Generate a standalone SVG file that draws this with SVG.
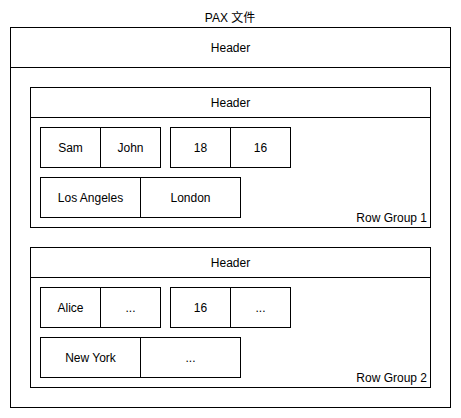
<svg xmlns="http://www.w3.org/2000/svg" width="461" height="418" viewBox="0 0 461 418">
<style>
.b{fill:#fff;stroke:#000;stroke-width:1}
.l{stroke:#000;stroke-width:1;fill:none}
text{font-family:"Liberation Sans",Arial,"Noto Sans CJK SC",sans-serif;font-size:12px;fill:#000;text-anchor:middle}
.r{text-anchor:end}
</style>
<rect width="461" height="418" fill="#fff"/>
<g id="file">
<text x="230" y="22">PAX 文件</text>
<rect class="b" x="10.5" y="27.5" width="440" height="380"/>
<line class="l" x1="10.5" y1="67.5" x2="450.5" y2="67.5"/>
<text x="230.5" y="51.5">Header</text>
</g>
<g id="rowgroup1">
<rect class="b" x="30.5" y="87.5" width="400" height="140"/>
<line class="l" x1="30.5" y1="117.5" x2="430.5" y2="117.5"/>
<text x="230.5" y="106.5">Header</text>
<text class="r" x="427" y="222">Row Group 1</text>
</g>
<g id="rg1-names">
<rect class="b" x="40.5" y="127.5" width="60" height="40"/>
<rect class="b" x="100.5" y="127.5" width="60" height="40"/>
<text x="70.5" y="151.5">Sam</text>
<text x="130.5" y="151.5">John</text>
</g>
<g id="rg1-ages">
<rect class="b" x="170.5" y="127.5" width="60" height="40"/>
<rect class="b" x="230.5" y="127.5" width="60" height="40"/>
<text x="200.5" y="151.5">18</text>
<text x="260.5" y="151.5">16</text>
</g>
<g id="rg1-cities">
<rect class="b" x="40.5" y="177.5" width="100" height="40"/>
<rect class="b" x="140.5" y="177.5" width="100" height="40"/>
<text x="90.5" y="201.5">Los Angeles</text>
<text x="190.5" y="201.5">London</text>
</g>
<g id="rowgroup2">
<rect class="b" x="30.5" y="247.5" width="400" height="140"/>
<line class="l" x1="30.5" y1="277.5" x2="430.5" y2="277.5"/>
<text x="230.5" y="266.5">Header</text>
<text class="r" x="427" y="382">Row Group 2</text>
</g>
<g id="rg2-names">
<rect class="b" x="40.5" y="287.5" width="60" height="40"/>
<rect class="b" x="100.5" y="287.5" width="60" height="40"/>
<text x="70.5" y="311.5">Alice</text>
<text x="130.5" y="311.5">...</text>
</g>
<g id="rg2-ages">
<rect class="b" x="170.5" y="287.5" width="60" height="40"/>
<rect class="b" x="230.5" y="287.5" width="60" height="40"/>
<text x="200.5" y="311.5">16</text>
<text x="260.5" y="311.5">...</text>
</g>
<g id="rg2-cities">
<rect class="b" x="40.5" y="337.5" width="100" height="40"/>
<rect class="b" x="140.5" y="337.5" width="100" height="40"/>
<text x="90.5" y="361.5">New York</text>
<text x="190.5" y="361.5">...</text>
</g>
<g id="connectors"/>
</svg>
